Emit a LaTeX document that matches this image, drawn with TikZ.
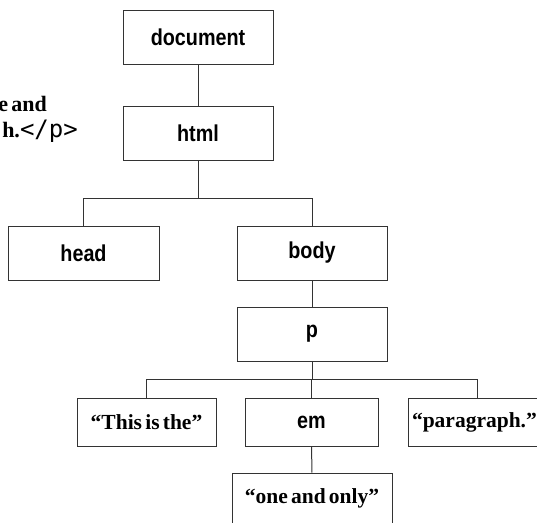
\documentclass[tikz,border=0pt]{standalone}
\usepackage{fontspec}
\setmainfont{Liberation Serif}[WordSpace=0.6]
\newfontfamily\labelfont[FakeStretch=0.86]{Liberation Sans}
\newfontfamily\codefont{DejaVu Sans Mono}

\begin{document}
\begin{tikzpicture}[x=1pt, y=-1pt,
    elem/.style={draw=black!80, line width=1pt, minimum width=150pt, minimum height=54pt, inner sep=0pt, font=\labelfont\bfseries\fontsize{23}{27}\selectfont},
    strnode/.style={draw=black!80, line width=1pt, minimum height=48pt, inner sep=0pt, font=\bfseries\fontsize{21.5}{26}\selectfont},
    branch/.style={draw=black!80, line width=1pt}]
    \useasboundingbox (0,0) rectangle (537,522);
    \clip (0,0) rectangle (537,522);
    % source fragment, cut off at the left edge
    \node[anchor=base east, inner sep=0pt, font=\bfseries\fontsize{22}{26}\selectfont] (src1) at (47,111) {e and};
    \node[anchor=base east, inner sep=0pt] (src2) at (78,137) {{\bfseries\fontsize{22}{26}\selectfont h.}{\codefont\fontsize{24}{28}\selectfont </p>}};
    % element nodes
    \node[elem] (doc) at (198,37) {document};
    \node[elem] (html) at (198,133) {html};
    \node[elem, minimum width=151pt] (head) at (83.5,253) {head};
    \node[elem] (body) at (312,253) {body};
    \node[elem] (p) at (312,334) {p};
    \node[strnode, minimum width=139pt] (this) at (146.5,422) {“This is the”};
    \node[elem, minimum width=133pt, minimum height=48pt] (em) at (311.5,422) {em};
    \node[strnode, inner xsep=4pt, text width=130pt, align=left] (para) at (477,422) {“paragraph.”};
    \node[strnode, minimum width=160pt, minimum height=50pt] (one) at (312,498) {“one and only”};
    % tree links
    \draw[branch] (doc) -- (html);
    \draw[branch] (html.south) -- ++(0,38) -| (head.north);
    \draw[branch] (html.south) ++(0,38) -| (body.north);
    \draw[branch] (body) -- (p);
    \draw[branch] (p.south) -- ++(0,18) -| (this.north);
    \draw[branch] (p.south) ++(0,18) -| (em.north);
    \draw[branch] (p.south) ++(0,18) -| (para.north);
    \draw[branch] (em) -- (one);
\end{tikzpicture}
\end{document}
